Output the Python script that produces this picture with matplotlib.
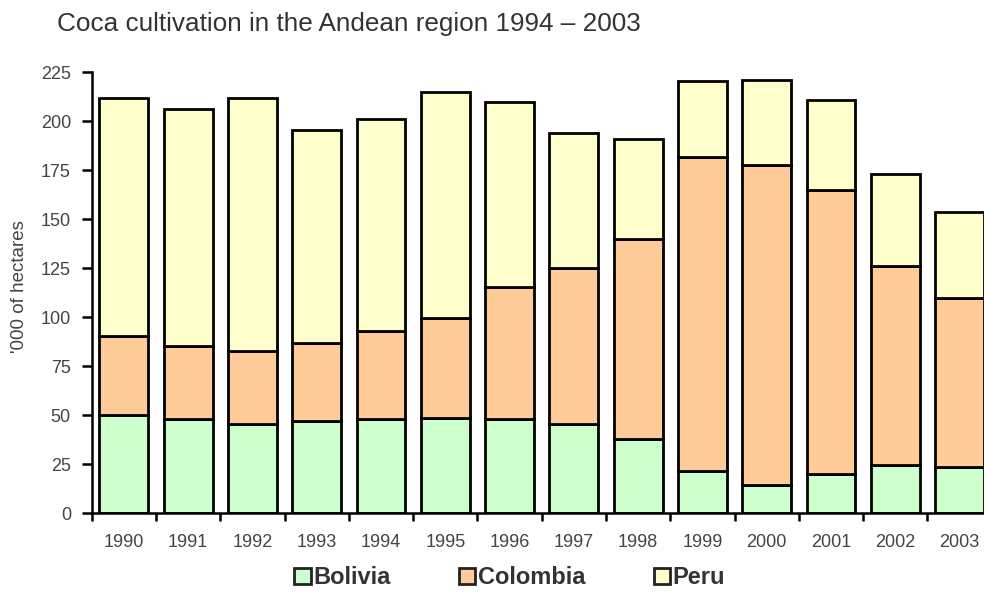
import matplotlib
matplotlib.use("Agg")
import matplotlib.pyplot as plt
from matplotlib.patches import Patch
import numpy as np

years = ["1990", "1991", "1992", "1993", "1994", "1995", "1996",
         "1997", "1998", "1999", "2000", "2001", "2002", "2003"]
bolivia = [50.3, 47.9, 45.5, 47.2, 48.1, 48.6, 48.1, 45.8, 38.0, 21.8, 14.6, 19.9, 24.4, 23.6]
colombia = [40.1, 37.5, 37.1, 39.7, 44.7, 50.9, 67.2, 79.4, 101.8, 160.1, 163.3, 144.8, 102.0, 86.0]
peru = [121.3, 120.8, 129.1, 108.8, 108.6, 115.3, 94.4, 68.8, 51.0, 38.7, 43.4, 46.2, 46.7, 44.2]
series_names = ["Bolivia", "Colombia", "Peru"]
colors = ["#ccffcc", "#ffcc99", "#ffffcc"]
yticks = [0, 25, 50, 75, 100, 125, 150, 175, 200, 225]

plt.rcParams['font.family'] = ['Liberation Sans', 'DejaVu Sans']

fig = plt.figure(figsize=(9.84, 5.92), dpi=100)
ax = fig.add_axes([0.0932, 0.1329, 0.9146, 0.745])

x = np.arange(len(years))
bottoms = np.zeros(len(years))
for name, vals, c in zip(series_names, [bolivia, colombia, peru], colors):
    ax.bar(x, vals, width=0.76, bottom=bottoms, color=c, edgecolor="black",
           linewidth=2.0, label=name, zorder=2)
    bottoms += np.array(vals)

ax.set_xlim(-0.5, len(years) - 0.5)
ax.set_ylim(0, 225)
ax.set_yticks(yticks)
ax.set_yticklabels([str(t) for t in yticks])
ax.set_xticks(x)
ax.set_xticklabels(years)
ax.set_xticks(np.arange(len(years) + 1) - 0.5, minor=True)
ax.tick_params(axis='x', which='major', length=0, pad=15, labelsize=13, colors='#444444')
ax.tick_params(axis='x', which='minor', length=6, width=1.8, direction='out', color='black')
ax.tick_params(axis='y', length=7, width=1.8, direction='out', labelsize=13, colors='#444444', color='black', pad=8)

for s in ['top', 'right']:
    ax.spines[s].set_visible(False)
for s in ['left', 'bottom']:
    ax.spines[s].set_linewidth(1.8)
    ax.spines[s].set_color('black')

ax.set_ylabel("'000 of hectares", fontsize=13.5, color='#444444')
ax.yaxis.set_label_coords(-0.071, 0.515)

fig.text(0.058, 0.960, "Coca cultivation in the Andean region 1994 \u2013 2003",
         fontsize=18.8, color='#333333', ha='left', va='center')

handles = [Patch(facecolor=c, edgecolor='#222222', linewidth=2.0) for c in colors]
fig.legend(handles, series_names, loc='center', bbox_to_anchor=(0.518, 0.024),
           ncol=3, frameon=False, handlelength=0.7, handleheight=0.7,
           handletextpad=0.1, columnspacing=2.9,
           prop={'weight': 'bold', 'size': 17})
for t in fig.legends[0].get_texts():
    t.set_color('#333333')

fig.savefig("out.png", dpi=100)
